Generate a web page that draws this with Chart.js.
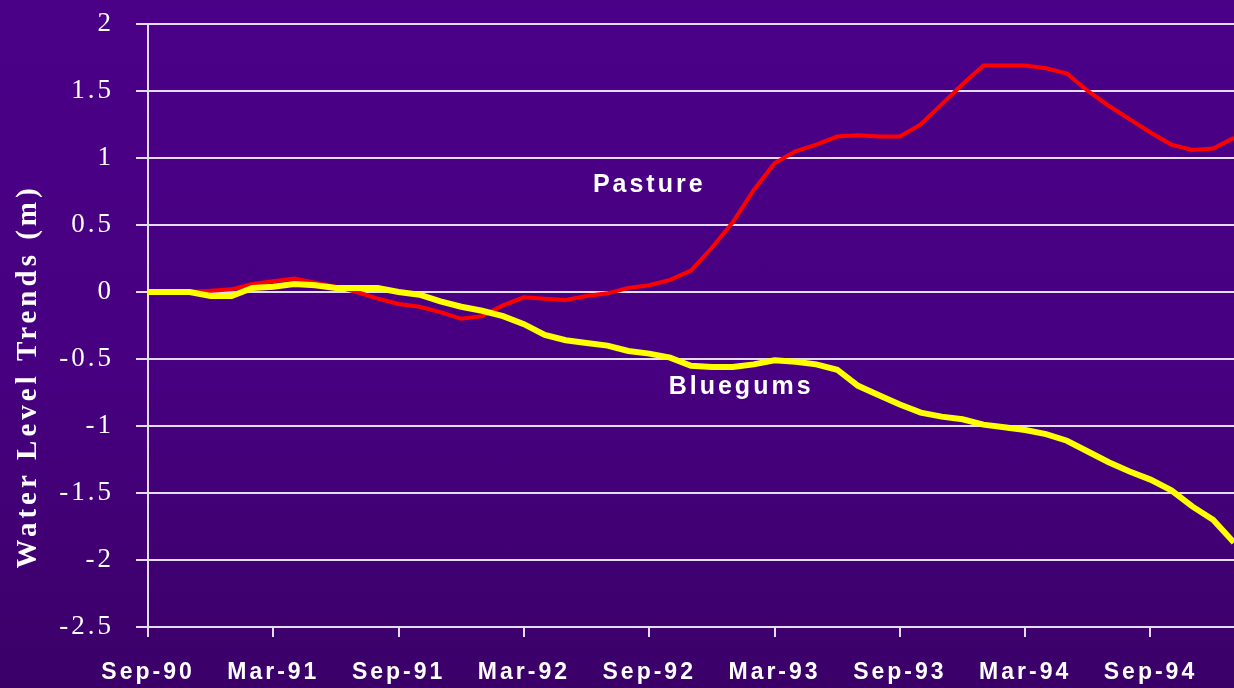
<!DOCTYPE html>
<html>
<head>
<meta charset="utf-8">
<title>Water Level Trends</title>
<script src="https://cdn.jsdelivr.net/npm/chart.js@4.4.1/dist/chart.umd.min.js"></script>
<style>
    html, body { margin: 0; padding: 0; }
    body {
        width: 1234px;
        height: 688px;
        overflow: hidden;
        background: linear-gradient(to bottom, #4b0088 0%, #470080 55%, #3b0068 100%);
    }
    .chart-wrap { position: relative; width: 1234px; height: 688px; }
</style>
</head>
<body>
<div class="chart-wrap"><canvas id="waterChart"></canvas></div>
<script>
// x axis: one step per month, starting Sep-90 (index 0)
const tickLabels = ['Sep-90', 'Mar-91', 'Sep-91', 'Mar-92', 'Sep-92', 'Mar-93', 'Sep-93', 'Mar-94', 'Sep-94'];

const pasture = [
    0, 0, 0, 0.01, 0.02, 0.06, 0.08, 0.1, 0.07, 0.04,
    0, -0.05, -0.09, -0.11, -0.15, -0.2, -0.18, -0.1, -0.04, -0.05,
    -0.06, -0.03, -0.01, 0.03, 0.05, 0.09, 0.16, 0.33, 0.52, 0.76,
    0.96, 1.05, 1.1, 1.16, 1.17, 1.16, 1.16, 1.25, 1.4, 1.55,
    1.69, 1.69, 1.69, 1.67, 1.63, 1.5, 1.39, 1.29, 1.19, 1.1,
    1.06, 1.07, 1.15
];

const bluegums = [
    0, 0, 0, -0.03, -0.03, 0.03, 0.04, 0.06, 0.05, 0.03,
    0.03, 0.03, 0, -0.02, -0.07, -0.11, -0.14, -0.18, -0.24, -0.32,
    -0.36, -0.38, -0.4, -0.44, -0.46, -0.49, -0.55, -0.56, -0.56, -0.54,
    -0.51, -0.52, -0.54, -0.58, -0.7, -0.77, -0.84, -0.9, -0.93, -0.95,
    -0.99, -1.01, -1.03, -1.06, -1.11, -1.19, -1.27, -1.34, -1.4, -1.48,
    -1.6, -1.7, -1.87
];

// where the series names sit, in data units (month index, metres)
const seriesNotes = [
    { text: 'Pasture', month: 24, level: 0.8 },
    { text: 'Bluegums', month: 28.4, level: -0.71 }
];

const yTitle = 'Water Level Trends (m)';
const gridColor = '#e6dcef';

const spacingPlugin = {
    id: 'spacing',
    beforeDraw(chart) {
        chart.ctx.letterSpacing = '3px';
    }
};

const notesPlugin = {
    id: 'notes',
    afterDatasetsDraw(chart) {
        const ctx = chart.ctx;
        const xs = chart.scales.x;
        const ys = chart.scales.y;
        ctx.save();
        ctx.fillStyle = '#ffffff';
        ctx.font = "bold 25px 'Liberation Sans', Arial, sans-serif";
        ctx.textAlign = 'center';
        ctx.textBaseline = 'middle';
        seriesNotes.forEach(n => {
            ctx.fillText(n.text, xs.getPixelForValue(n.month), ys.getPixelForValue(n.level));
        });
        ctx.restore();
    }
};

// axis title sits a little below the middle of the axis, as in the original slide
const yTitlePlugin = {
    id: 'yTitle',
    afterDraw(chart) {
        const ctx = chart.ctx;
        const ys = chart.scales.y;
        ctx.save();
        ctx.translate(29, ys.getPixelForValue(-0.63));
        ctx.rotate(-Math.PI / 2);
        ctx.fillStyle = '#ffffff';
        ctx.letterSpacing = '4px';
        ctx.font = "bold 29px 'Liberation Serif', 'Times New Roman', serif";
        ctx.textAlign = 'center';
        ctx.textBaseline = 'middle';
        ctx.fillText(yTitle, 0, 0);
        ctx.restore();
    }
};

const ctx = document.getElementById('waterChart').getContext('2d');
const waterChart = new Chart(ctx, {
    type: 'line',
    data: {
        datasets: [
            {
                label: 'Bluegums',
                data: bluegums.map((v, i) => ({ x: i, y: v })),
                borderColor: '#ffff00',
                borderWidth: 6,
                pointRadius: 0,
                tension: 0
            },
            {
                label: 'Pasture',
                data: pasture.map((v, i) => ({ x: i, y: v })),
                borderColor: '#ff0000',
                borderWidth: 4,
                pointRadius: 0,
                tension: 0
            }
        ]
    },
    options: {
        responsive: true,
        maintainAspectRatio: false,
        animation: false,
        layout: { padding: { top: 24, right: 0, left: 0, bottom: 0 } },
        plugins: {
            legend: { display: false },
            tooltip: { enabled: false }
        },
        scales: {
            x: {
                type: 'linear',
                min: 0,
                max: 52,
                afterBuildTicks: scale => {
                    scale.ticks = tickLabels.map((l, i) => ({ value: i * 6 }));
                },
                afterFit: scale => { scale.height = 61; },
                grid: {
                    drawOnChartArea: false,
                    drawTicks: true,
                    tickLength: 10,
                    color: gridColor,
                    lineWidth: 2
                },
                border: { display: true, color: gridColor, width: 2 },
                ticks: {
                    color: '#ffffff',
                    padding: 22,
                    maxRotation: 0,
                    autoSkip: false,
                    font: { family: "'Liberation Sans Narrow', 'Arial Narrow', 'Liberation Sans', sans-serif", size: 23, weight: 'bold' },
                    callback: value => tickLabels[value / 6] || ''
                }
            },
            y: {
                min: -2.5,
                max: 2,
                afterFit: scale => {
                    scale.width = 148;
                    scale.paddingTop = 0;
                    scale.paddingBottom = 0;
                },
                grid: {
                    color: gridColor,
                    lineWidth: 2,
                    tickLength: 12
                },
                border: { display: true, color: gridColor, width: 2 },
                ticks: {
                    stepSize: 0.5,
                    color: '#ffffff',
                    padding: 22,
                    font: { family: "'Liberation Serif', 'Times New Roman', serif", size: 27 },
                    callback: value => String(Math.round(value * 10) / 10)
                }
            }
        }
    },
    plugins: [spacingPlugin, notesPlugin, yTitlePlugin]
});
</script>
</body>
</html>
